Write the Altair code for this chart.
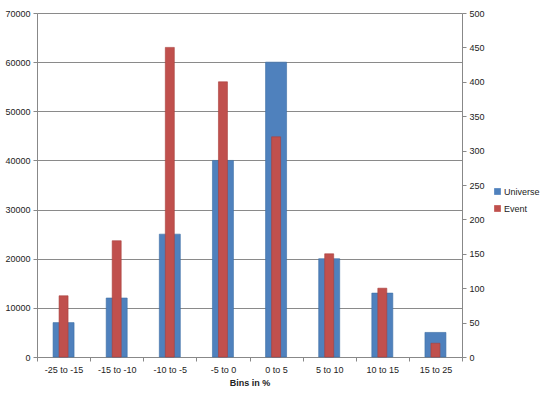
import altair as alt
import pandas as pd

bins = ["-25 to -15", "-15 to -10", "-10 to -5", "-5 to 0", "0 to 5", "5 to 10", "10 to 15", "15 to 25"]
universe = [7000, 12000, 25000, 40000, 60000, 20000, 13000, 5000]
event = [89, 169, 450, 400, 320, 150, 100, 20]

df = pd.DataFrame({"bin": bins, "Universe": universe, "Event": event})

FONT = "Liberation Sans"
color_scale = alt.Scale(domain=["Universe", "Event"], range=["#4F81BD", "#C0504D"])

x_enc = alt.X("bin:N", sort=bins, title="Bins in %",
              scale=alt.Scale(paddingInner=0, paddingOuter=0),
              axis=alt.Axis(labelAngle=0, tickBand="extent", labelFontSize=9, titleFontSize=9,
                            titleFontWeight="bold", labelPadding=4, titlePadding=4,
                            domainColor="#888888", tickColor="#888888", tickSize=4,
                            labelColor="#222222", titleColor="#222222"))

blue = alt.Chart(df).transform_calculate(series="'Universe'").mark_bar(
    size=21, stroke="#3d6ea5", strokeWidth=0.6).encode(
    x=x_enc,
    y=alt.Y("Universe:Q", title=None,
            scale=alt.Scale(domain=[0, 70000], nice=False),
            axis=alt.Axis(orient="left", values=list(range(0, 70001, 10000)), grid=True,
                          format="d",
                          gridColor="#8a8a8a", gridWidth=1, labelFontSize=9,
                          domainColor="#888888", tickColor="#888888", tickSize=4,
                          labelColor="#222222", labelPadding=3)),
    color=alt.Color("series:N", scale=color_scale, legend=alt.Legend(
        title=None, orient="none", legendX=456, legendY=174, symbolType="square",
        symbolSize=45, labelFontSize=9, rowPadding=7, labelColor="#222222",
        symbolStrokeWidth=0, labelOffset=2)),
)

red = alt.Chart(df).transform_calculate(series="'Event'").mark_bar(
    size=9, stroke="#a8403d", strokeWidth=0.6).encode(
    x=alt.X("bin:N", sort=bins),
    y=alt.Y("Event:Q", title=None,
            scale=alt.Scale(domain=[0, 500], nice=False),
            axis=alt.Axis(orient="right", values=list(range(0, 501, 50)), grid=False,
                          labelFontSize=9, domainColor="#888888", tickColor="#888888",
                          tickSize=4, labelColor="#222222", labelPadding=3)),
    color=alt.Color("series:N", scale=color_scale),
)

chart = alt.layer(blue, red).resolve_scale(y="independent").properties(
    width=425, height=344,
    autosize=alt.AutoSizeParams(type="none"),
    padding={"left": 37, "top": 13, "right": 78, "bottom": 38},
).configure_view(stroke=None).configure(font=FONT)

chart.save("out.html", embed_options={"renderer": "svg", "actions": False})
